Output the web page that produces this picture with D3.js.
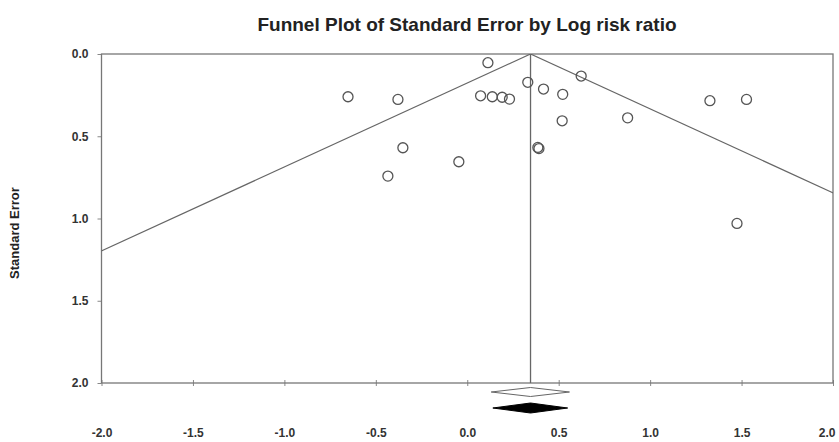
<!DOCTYPE html>
<html>
<head>
<meta charset="utf-8">
<script src="https://cdn.jsdelivr.net/npm/d3@7"></script>
<style>
  body { margin: 0; background: #fff; }
  text { font-family: "Liberation Sans", Arial, sans-serif; }
</style>
</head>
<body>
<div id="chart"></div>
<script>
// study values (log risk ratio, standard error)
var logRR = [-0.652, -0.379, -0.352, -0.046, -0.434, 0.113, 0.073, 0.137, 0.191, 0.231,
             0.331, 0.417, 0.522, 0.519, 0.623, 0.386, 0.392, 0.877, 1.327, 1.527, 1.475];
var stdErr = [0.260, 0.276, 0.570, 0.655, 0.742, 0.053, 0.254, 0.260, 0.263, 0.274,
              0.172, 0.213, 0.245, 0.406, 0.134, 0.568, 0.575, 0.388, 0.284, 0.276, 1.030];

// combined effect + diamonds (observed = white, adjusted = black)
var pooledEffect = 0.346;
var diamondLow = [0.131, 0.140];
var diamondHigh = [0.559, 0.549];
var diamondFill = ['#fff', '#000'];

var xTicks = [-2.0, -1.5, -1.0, -0.5, 0.0, 0.5, 1.0, 1.5, 2.0];
var yTicks = [0.0, 0.5, 1.0, 1.5, 2.0];

var margin = { top: 54, right: 6, bottom: 59, left: 101.5 };
var svgWidth = 839, svgHeight = 442;
var chartWidth = svgWidth - margin.left - margin.right;
var chartHeight = svgHeight - margin.top - margin.bottom;

var svg = d3.select('#chart').append('svg')
    .attr('width', svgWidth)
    .attr('height', svgHeight);

var chartGroup = svg.append('g')
    .attr('transform', `translate(${margin.left}, ${margin.top})`);

var xscale = d3.scaleLinear().domain([-2, 2]).range([0, chartWidth]);
var yscale = d3.scaleLinear().domain([0, 2]).range([0, chartHeight]);

// title
svg.append('text')
    .attr('x', 467)
    .attr('y', 31)
    .attr('text-anchor', 'middle')
    .attr('font-size', '19px')
    .attr('font-weight', 'bold')
    .attr('fill', '#222')
    .text('Funnel Plot of Standard Error by Log risk ratio');

// axes (plain hyphen for negatives, like the original)
var fmt = d => d.toFixed(1);
var leftaxis = d3.axisLeft(yscale).tickValues(yTicks).tickFormat(fmt)
    .tickSizeInner(4).tickSizeOuter(0).tickPadding(9);
var bottomaxis = d3.axisBottom(xscale).tickValues(xTicks).tickFormat(fmt)
    .tickSizeInner(3).tickSizeOuter(0).tickPadding(42);

var yAxisG = chartGroup.append('g').call(leftaxis);
var xAxisG = chartGroup.append('g')
    .attr('transform', `translate(0, ${chartHeight})`)
    .call(bottomaxis);

[yAxisG, xAxisG].forEach(function (g) {
    g.select('.domain').remove();
    g.selectAll('line').attr('stroke', '#888');
    g.selectAll('text')
        .attr('font-size', '12px')
        .attr('font-weight', 'bold')
        .attr('fill', '#333')
        .attr('font-family', '"Liberation Sans", Arial, sans-serif');
});
xAxisG.selectAll('.tick line').attr('y1', -3);
// keep the last label inside the window
xAxisG.selectAll('.tick text').filter(d => d === 2).attr('text-anchor', 'end').attr('dx', 2);

// y label
svg.append('text')
    .attr('transform', 'translate(19, 233) rotate(-90)')
    .attr('text-anchor', 'middle')
    .attr('font-size', '13px')
    .attr('font-weight', 'bold')
    .attr('fill', '#222')
    .text('Standard Error');

// frame
chartGroup.append('rect')
    .attr('width', chartWidth)
    .attr('height', chartHeight)
    .attr('fill', 'none')
    .attr('stroke', '#777')
    .attr('stroke-width', 1.3);

// funnel
chartGroup.append('clipPath').attr('id', 'plotclip')
    .append('rect').attr('width', chartWidth).attr('height', chartHeight);

var funnel = chartGroup.append('g').attr('clip-path', 'url(#plotclip)');
[-1, 1].forEach(function (side) {
    funnel.append('line')
        .attr('x1', xscale(pooledEffect))
        .attr('y1', yscale(0))
        .attr('x2', xscale(pooledEffect + side * 1.96 * 2))
        .attr('y2', yscale(2))
        .attr('stroke', '#666')
        .attr('stroke-width', 1.2);
});
funnel.append('line')
    .attr('x1', xscale(pooledEffect))
    .attr('x2', xscale(pooledEffect))
    .attr('y1', 0)
    .attr('y2', chartHeight)
    .attr('stroke', '#666')
    .attr('stroke-width', 1.3);

// studies
chartGroup.selectAll('.study')
    .data(logRR)
    .enter()
    .append('circle')
    .attr('class', 'study')
    .attr('cx', d => xscale(d))
    .attr('cy', (d, i) => yscale(stdErr[i]))
    .attr('r', 5)
    .attr('fill', 'none')
    .attr('stroke', '#555')
    .attr('stroke-width', 1.3);

// diamonds under the axis
var diamondY = [chartHeight + 9, chartHeight + 25];
var diamondHalf = [4.5, 5];
chartGroup.selectAll('.diamond')
    .data(diamondLow)
    .enter()
    .append('path')
    .attr('class', 'diamond')
    .attr('d', function (d, i) {
        var cx = xscale(pooledEffect), cy = diamondY[i], h = diamondHalf[i];
        return `M${xscale(d)},${cy} L${cx},${cy - h} L${xscale(diamondHigh[i])},${cy} L${cx},${cy + h} Z`;
    })
    .attr('fill', (d, i) => diamondFill[i])
    .attr('stroke', (d, i) => i === 0 ? '#666' : '#000')
    .attr('stroke-width', 1);
</script>
</body>
</html>
